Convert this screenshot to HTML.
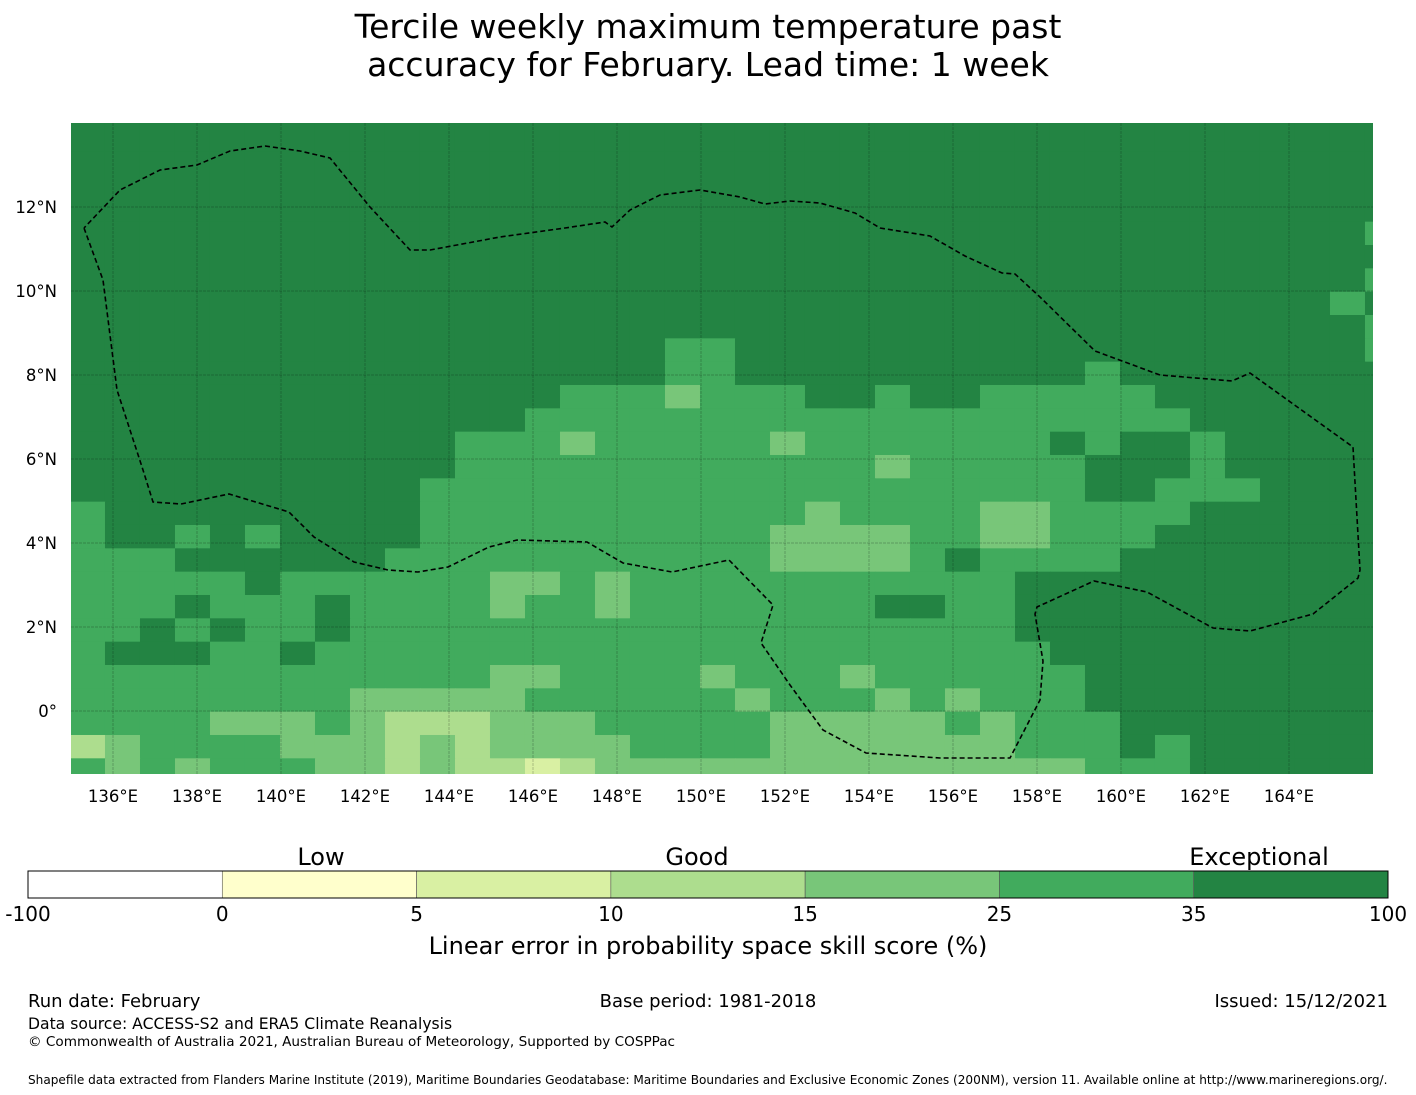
<!DOCTYPE html>
<html><head><meta charset="utf-8"><style>
html,body{margin:0;padding:0;background:#fff;}
svg{display:block;font-family:"DejaVu Sans","Liberation Sans",sans-serif;}
</style></head><body>
<svg id="chart" width="1416" height="1095" viewBox="0 0 1416 1095" xmlns="http://www.w3.org/2000/svg">
<defs><clipPath id="mapclip"><rect x="71" y="123" width="1302" height="651"/></clipPath></defs>
<text x="708" y="38" font-size="33" text-anchor="middle">Tercile weekly maximum temperature past</text>
<text x="708" y="76" font-size="33" text-anchor="middle">accuracy for February. Lead time: 1 week</text>
<g id="map" clip-path="url(#mapclip)"></g>
<g id="axes"></g>
<g id="cbar"></g>
<text x="321" y="865" font-size="24" text-anchor="middle">Low</text>
<text x="697" y="865" font-size="24" text-anchor="middle">Good</text>
<text x="1259" y="865" font-size="24" text-anchor="middle">Exceptional</text>
<text x="708" y="954" font-size="24" text-anchor="middle">Linear error in probability space skill score (%)</text>
<text x="28" y="1007" font-size="18">Run date: February</text>
<text x="708" y="1007" font-size="18" text-anchor="middle">Base period: 1981-2018</text>
<text x="1388" y="1007" font-size="18" text-anchor="end">Issued: 15/12/2021</text>
<text x="28" y="1029" font-size="15.6">Data source: ACCESS-S2 and ERA5 Climate Reanalysis</text>
<text x="28" y="1046" font-size="13.6">© Commonwealth of Australia 2021, Australian Bureau of Meteorology, Supported by COSPPac</text>
<text x="28" y="1084" font-size="12.1">Shapefile data extracted from Flanders Marine Institute (2019), Maritime Boundaries Geodatabase: Maritime Boundaries and Exclusive Economic Zones (200NM), version 11. Available online at http://www.marineregions.org/.</text>
</svg>
<script>
// ---- data ----
const binEdges = [-100, 0, 5, 10, 15, 25, 35, 100];
const binColors = ["#ffffff", "#ffffcc", "#d9f0a3", "#addd8e", "#78c679", "#41ab5d", "#238443"];
const classValues = [-50, 2.5, 7.5, 12.5, 20, 30, 60];
const gridRows = [
"66666666666666666666666666666666666666",
"66666666666666666666666666666666666666",
"66666666666666666666666666666666666666",
"66666666666666666666666666666666666666",
"66666666666666666666666666666666666666",
"66666666666666666666666666666666666665",
"66666666666666666666666666666666666666",
"66666666666666666666666666666666666665",
"66666666666666666666666666666666666656",
"66666666666666666666666666666666666665",
"66666666666666666556666666666666666665",
"66666666666666666556666666666566666666",
"66666666666666555455566566555556666666",
"66666666666665555555555555555555666666",
"66666666666555455555455555556566566666",
"66666666666555555555555455555666566666",
"66666666665555555555555555555665556666",
"56666666665555555555545555445555666666",
"56656566665555555555444455445556666666",
"55566666655555555555444456555566666666",
"55555655555544545555555555566666666666",
"55565556555545545555555665566666666666",
"55656556555555555555555555566666666666",
"56665565555555555555555555556666666666",
"55555555555544555545554555555666666666",
"55555555444445555554555454555666666666",
"55554445433344455555444445455566666666",
"34555544434344445555444444455565666666",
"54545554434332344444444444444555666666"
];
const lonTicks = [136,138,140,142,144,146,148,150,152,154,156,158,160,162,164];
const latTicks = [12,10,8,6,4,2,0];
const latTickLabels = ["12°N","10°N","8°N","6°N","4°N","2°N","0°"];
const eezLon = [];
const eezLat = [];
const eezPath = [[84,228],[103,280],[117,390],[143,470],[153,502],[181,504],[229,494],[289,512],[314,537],[354,562],[388,570],[418,572],[448,567],[489,547],[517,540],[587,542],[623,563],[672,572],[729,560],[773,605],[761,643],[790,685],[823,730],[866,753],[940,758],[1010,758],[1040,700],[1043,661],[1035,614],[1037,607],[1094,581],[1147,592],[1213,628],[1250,631],[1313,614],[1358,578],[1360,570],[1353,447],[1250,373],[1232,381],[1160,375],[1095,351],[1040,297],[1015,274],[1002,273],[965,256],[930,236],[880,228],[855,213],[820,203],[790,201],[765,204],[740,197],[700,190],[660,195],[630,210],[612,227],[605,222],[565,228],[500,237],[430,250],[410,250],[370,207],[330,158],[300,151],[265,146],[230,151],[197,165],[160,170],[120,190],[84,228]];
eezPath.forEach(p=>{eezLon.push(135+(p[0]-71)/42);eezLat.push((711-p[1])/42);});

// ---- scales ----
const X = lon => 71 + (lon - 135) * 42;
const Y = lat => 711 - lat * 42;
const lon0 = 134.976, dLon = 35/42, latTop0 = 14.4286, dLat = 23.333/42;
const NS = "http://www.w3.org/2000/svg";
function mk(tag, attrs, parent){const e=document.createElementNS(NS,tag);for(const k in attrs)e.setAttribute(k,attrs[k]);parent.appendChild(e);return e;}
function colorFor(v){for(let i=0;i<binColors.length;i++){if(v<binEdges[i+1])return binColors[i];}return binColors[binColors.length-1];}

const map = document.getElementById('map');
mk('rect',{x:71,y:123,width:1302,height:651,fill:"#238443"},map);
gridRows.forEach((row,r)=>{
  for(let c=0;c<row.length;c++){
    const v = classValues[+row[c]];
    const x1=X(lon0+c*dLon), x2=X(lon0+(c+1)*dLon);
    const y1=Y(latTop0-r*dLat), y2=Y(latTop0-(r+1)*dLat);
    const cell = mk('rect',{x:x1.toFixed(2),y:y1.toFixed(2),width:(x2-x1+0.6).toFixed(2),height:(y2-y1+0.6).toFixed(2),fill:colorFor(v)},map);
    
    
  }
});
lonTicks.forEach(l=>{
  const g=mk('line',{x1:X(l),x2:X(l),y1:123,y2:774,stroke:"rgba(0,0,0,0.22)","stroke-width":1,"stroke-dasharray":"3,1"},map);
  
  
});
latTicks.forEach(l=>{
  const g=mk('line',{x1:71,x2:1373,y1:Y(l),y2:Y(l),stroke:"rgba(0,0,0,0.22)","stroke-width":1,"stroke-dasharray":"3,1"},map);
  
  
});
const pts = eezLon.map((lo,i)=>X(lo).toFixed(1)+","+Y(eezLat[i]).toFixed(1)).join(" ");
const eez = mk('polyline',{points:pts,fill:"none",stroke:"#000","stroke-width":1.6,"stroke-dasharray":"5,3"},map);



const axes = document.getElementById('axes');
lonTicks.forEach(l=>{
  const t=mk('text',{x:X(l),y:802,"font-size":16.5,"text-anchor":"middle"},axes);
  t.textContent=l+"°E";
  
  
});
latTicks.forEach((l,i)=>{
  const t=mk('text',{x:57,y:Y(l)+6,"font-size":16.5,"text-anchor":"end"},axes);
  t.textContent=latTickLabels[i];
  
  
});

const cbar = document.getElementById('cbar');
const cbX0=28, cbW=1360, segW=cbW/binColors.length;
binColors.forEach((col,i)=>{
  const s=mk('rect',{x:cbX0+i*segW,y:871,width:segW,height:27,fill:col,stroke:"#555","stroke-width":0.6},cbar);
  
  
});
mk('rect',{x:cbX0,y:871,width:cbW,height:27,fill:"none",stroke:"#000","stroke-width":1},cbar);
binEdges.forEach((e,i)=>{
  const t=mk('text',{x:cbX0+i*segW,y:921,"font-size":20,"text-anchor":"middle"},cbar);
  t.textContent=e;
  
  
});
</script>
</body></html>
